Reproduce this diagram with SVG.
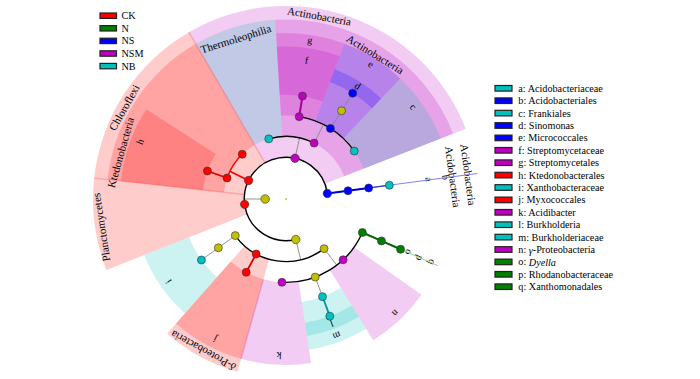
<svg xmlns="http://www.w3.org/2000/svg" width="700" height="379" viewBox="0 0 700 379">
<style>
.r{fill:#FF0000;fill-opacity:.2}
.m{fill:#C000C0;fill-opacity:.2}
.b{fill:#0000FF;fill-opacity:.2}
.t{fill:#00C0C0;fill-opacity:.2}
.seam{fill:none;stroke-opacity:.2;stroke-width:1.4}
.lab{font-family:"Liberation Serif","Times New Roman",serif;font-size:11px;fill:#000;text-anchor:middle;dominant-baseline:central}
.let{font-size:10px}
.nd{stroke:#333;stroke-width:.6}
.ck{fill:#FF0000}.gn{fill:#008000}.ns{fill:#0000FF}.nsm{fill:#C000C0}.nb{fill:#00C0C0}.y{fill:#C0C000}
.arc{fill:none;stroke:#000;stroke-width:1.4}
.gr{fill:none;stroke:#888;stroke-width:.9}
.leg{font-family:"Liberation Serif","Times New Roman",serif;font-size:10.2px;fill:#000;dominant-baseline:central}
.sw{stroke:#222;stroke-width:1.2}
</style>
<rect width="700" height="379" fill="#fff"/>
<g id="clades">
<g id="clade-actinobacteria-phylum"><path class="m" d="M188.92,32.17 A193,193 0 0 1 465.76,128.75 L324.84,183.82 A41.7,41.7 0 0 0 265.02,162.95 Z"/><text class="lab" transform="translate(319.26,15.99) rotate(10.3)">Actinobacteria</text></g>
<g id="clade-thermoleophilia"><path class="t" d="M195.71,43.84 A179.5,179.5 0 0 1 275.19,19.82 L282.23,136.56 A62.55,62.55 0 0 0 254.54,144.93 Z"/><text class="lab" transform="translate(235.77,38.69) rotate(-17.4)">Thermoleophilia</text></g>
<g id="clade-actinobacteria-class"><path class="m" d="M275.19,19.82 A179.5,179.5 0 0 1 453.19,133.66 L344.26,176.23 A62.55,62.55 0 0 0 282.23,136.56 Z"/><text class="lab" transform="translate(375.08,54.21) rotate(31.6)">Actinobacteria</text></g>
<g id="clade-g"><path class="m" d="M276.01,33.30 A166,166 0 0 1 344.40,43.61 L315.34,120.93 A83.4,83.4 0 0 0 280.98,115.75 Z"/><text class="lab let" transform="translate(310,40) rotate(9.1)">g</text></g>
<g id="clade-f"><path class="m" d="M276.82,46.77 A152.5,152.5 0 0 1 339.65,56.24 L322.68,101.41 A104.25,104.25 0 0 0 279.72,94.94 Z"/><text class="lab let" transform="translate(306.7,60) rotate(8.5)">f</text></g>
<g id="clade-e"><path class="b" d="M344.40,43.61 A166,166 0 0 1 400.27,78.58 L343.41,138.50 A83.4,83.4 0 0 0 315.34,120.93 Z"/><text class="lab let" transform="translate(371,64) rotate(32.2)">e</text></g>
<g id="clade-d"><path class="b" d="M334.72,69.35 A138.5,138.5 0 0 1 381.34,98.53 L372.12,108.25 A125.1,125.1 0 0 0 330.01,81.89 Z"/><text class="lab let" transform="translate(357.7,86) rotate(32.4)">d</text></g>
<g id="clade-c"><path class="t" d="M400.27,78.58 A166,166 0 0 1 440.61,138.58 L363.68,168.64 A83.4,83.4 0 0 0 343.41,138.50 Z"/><text class="lab let" transform="translate(413.3,106.7) rotate(54)">c</text></g>
<g id="clade-chloroflexi"><path class="r" d="M94.12,178.16 A193,193 0 0 1 188.92,32.17 L265.02,162.95 A41.7,41.7 0 0 0 244.54,194.50 Z"/><text class="lab" transform="translate(124.11,107.41) rotate(-60.5)">Chloroflexi</text></g>
<g id="clade-ktedonobacteria"><path class="r" d="M107.54,179.61 A179.5,179.5 0 0 1 134.95,102.02 L233.36,165.20 A62.55,62.55 0 0 0 223.81,192.24 Z"/><text class="lab" transform="translate(120.42,152.46) rotate(-74.3)">Ktedonobacteria</text></g>
<g id="clade-h"><path class="r" d="M120.96,181.07 A166,166 0 0 1 146.31,109.31 L215.82,153.94 A83.4,83.4 0 0 0 203.08,189.99 Z"/><text class="lab let" transform="translate(140,141.7) rotate(-68.6)">h</text></g>
<g id="clade-chloroflexi-class2"><path class="r" d="M134.95,102.02 A179.5,179.5 0 0 1 195.71,43.84 L254.54,144.93 A62.55,62.55 0 0 0 233.36,165.20 Z"/></g>
<g id="clade-planctomycetes"><path class="r" d="M106.47,269.91 A193,193 0 0 1 94.12,178.16 L244.54,194.50 A41.7,41.7 0 0 0 247.21,214.32 Z"/><text class="lab" transform="translate(101.15,227.29) rotate(-98.7)">Planctomycetes</text></g>
<g id="clade-i"><path class="t" d="M185.04,313.30 A152.5,152.5 0 0 1 144.14,255.03 L189.03,237.30 A104.25,104.25 0 0 0 216.99,277.14 Z"/><text class="lab let" transform="translate(168.3,281.7) rotate(234.9)">i</text></g>
<g id="clade-deltaproteobacteria"><path class="r" d="M237.43,371.80 A179.5,179.5 0 0 1 167.17,333.54 L244.59,245.88 A62.55,62.55 0 0 0 269.07,259.22 Z"/><text class="lab" transform="translate(203.18,350.89) rotate(208.6)"><tspan font-style="italic">δ</tspan>-Proteobacteria</text></g>
<g id="clade-j"><path class="r" d="M241.08,358.81 A166,166 0 0 1 176.11,323.42 L230.79,261.51 A83.4,83.4 0 0 0 263.43,279.29 Z"/><text class="lab let" transform="translate(215,339.3) rotate(206.8)">j</text></g>
<g id="clade-k"><path class="m" d="M311.10,363.09 A166,166 0 0 1 241.08,358.81 L263.43,279.29 A83.4,83.4 0 0 0 298.61,281.44 Z"/><text class="lab let" transform="translate(279,355.7) rotate(182.6)">k</text></g>
<g id="clade-m"><path class="t" d="M366.14,328.75 A152.5,152.5 0 0 1 309.06,349.75 L301.76,302.05 A104.25,104.25 0 0 0 340.78,287.70 Z"/><text class="lab let" transform="translate(336.7,336) rotate(159.7)">m</text></g>
<g id="clade-l"><path class="t" d="M358.78,316.84 A138.5,138.5 0 0 1 306.94,335.91 L304.92,322.66 A125.1,125.1 0 0 0 351.74,305.44 Z"/><text class="lab let" transform="translate(331.7,323.3) rotate(159.8)">l</text></g>
<g id="clade-n"><path class="m" d="M421.57,294.82 A166,166 0 0 1 373.23,340.23 L329.83,269.96 A83.4,83.4 0 0 0 354.11,247.14 Z"/><text class="lab let" transform="translate(395.7,313.3) rotate(136.2)">n</text></g>
<g id="clade-seams">
<path class="seam" stroke="#FF0000" d="M265.02,162.95 L188.92,32.17"/>
<path class="seam" stroke="#FF0000" d="M244.54,194.50 L94.12,178.16"/>
<path class="seam" stroke="#C000C0" d="M263.43,279.29 L241.08,358.81"/>
</g>
<g id="clade-acidobacteria"><text class="lab" transform="translate(468.38,174.66) rotate(82.4)">Acidobacteria</text><text class="lab" transform="translate(453.02,176.71) rotate(82.4)">Acidobacteria</text><text class="lab let" transform="translate(429,179.3) rotate(82.2)">a</text><text class="lab let" transform="translate(445.7,177.3) rotate(82.3)">b</text></g>
<g id="clade-xanthomonadales"><text class="lab let" transform="translate(409,252.3) rotate(113.7)">o</text><text class="lab let" transform="translate(420,258.3) rotate(113.7)">p</text><text class="lab let" transform="translate(432.3,262.3) rotate(113.7)">q</text></g>
</g>
<g id="connectors">
<path d="M327.33,193.48 L477.3,173.47" fill="none" stroke="#8080FF" stroke-width="1"/>
<path d="M362.37,232.52 L438.0,265.7" fill="none" stroke="#90D090" stroke-width="1"/>
<path class="gr" d="M265.15,199 L244.3,199"/>
<path class="arc" d="M295.80,239.53 A41.7,41.7 0 1 1 327.33,193.48"/>
<path class="gr" d="M295.02,158.29 L299.54,137.93"/>
<path class="arc" d="M268.76,138.87 A62.55,62.55 0 0 1 314.10,143.12"/>
<path class="gr" d="M314.10,143.12 L323.47,124.49"/>
<path class="arc" d="M299.19,116.65 A83.4,83.4 0 0 1 354.23,151.04"/>
<path class="gr" d="M330.44,128.43 L341.56,110.78 L352.67,93.14"/>
<path d="M299.19,116.65 L302.49,96.06" fill="none" stroke="#A000A0" stroke-width="2"/>
<path d="M248.62,180.52 L229.92,171.28" fill="none" stroke="#FF0000" stroke-width="1.7"/>
<path d="M227.07,178.01 A62.55,62.55 0 0 1 242.23,154.31" fill="none" stroke="#FF0000" stroke-width="1.5"/>
<path d="M227.07,178.01 L207.43,171.02" fill="none" stroke="#E00000" stroke-width="1.8"/>
<path d="M327.33,193.48 L348.00,190.72 L368.67,187.97" fill="none" stroke="#0000C8" stroke-width="2"/>
<path d="M368.67,187.97 L389.33,185.21" fill="none" stroke="#3030C0" stroke-width="1.2"/>
<path class="gr" d="M295.80,239.53 L300.71,259.80"/>
<path class="arc" d="M324.08,248.63 A62.55,62.55 0 0 1 235.27,235.59"/>
<path class="gr" d="M235.27,235.59 L218.35,247.79 L201.44,259.99"/>
<path d="M256.15,253.97 L246.20,272.29" fill="none" stroke="#E00000" stroke-width="1.8"/>
<path class="gr" d="M324.08,248.63 L336.77,265.17"/>
<path class="arc" d="M362.37,232.52 A83.4,83.4 0 0 1 281.93,282.30"/>
<path class="gr" d="M315.21,277.12 L322.51,296.65"/>
<path d="M322.51,296.65 L329.81,316.18" fill="none" stroke="#009A9A" stroke-width="1.8"/>
<path d="M362.37,232.52 L381.46,240.90 L400.55,249.28" fill="none" stroke="#006400" stroke-width="2"/>
</g>
<g id="nodes">
<g id="node-root"><circle cx="286" cy="199" r="0.9" class="y"/></g>
<g id="node-bacteria"><circle class="nd y" cx="265.15" cy="199" r="4.3"/></g>
<g id="node-proteobacteria"><circle class="nd y" cx="295.80" cy="239.53" r="4.2"/></g>
<g id="node-planctomycetes"><circle class="nd ck" cx="244.65" cy="204.37" r="4.2"/></g>
<g id="node-chloroflexi"><circle class="nd ck" cx="248.62" cy="180.52" r="4.2"/></g>
<g id="node-actinobacteria-phylum"><circle class="nd nsm" cx="295.02" cy="158.29" r="4.2"/></g>
<g id="node-acidobacteria-phylum"><circle class="nd ns" cx="327.33" cy="193.48" r="4.2"/></g>
<g id="node-alphaproteobacteria"><circle class="nd y" cx="235.27" cy="235.59" r="4"/></g>
<g id="node-deltaproteobacteria"><circle class="nd ck" cx="256.15" cy="253.97" r="4"/></g>
<g id="node-gammaproteobacteria"><circle class="nd y" cx="324.08" cy="248.63" r="4"/></g>
<g id="node-ktedonobacteria"><circle class="nd ck" cx="227.07" cy="178.01" r="4"/></g>
<g id="node-chloroflexi-class2"><circle class="nd ck" cx="242.23" cy="154.31" r="4"/></g>
<g id="node-thermoleophilia"><circle class="nd nb" cx="268.76" cy="138.87" r="4"/></g>
<g id="node-actinobacteria-class"><circle class="nd nsm" cx="314.10" cy="143.12" r="4"/></g>
<g id="node-acidobacteria-class"><circle class="nd ns" cx="348.00" cy="190.72" r="4"/></g>
<g id="node-rhizobiales"><circle class="nd y" cx="218.35" cy="247.79" r="4"/></g>
<g id="node-j"><circle class="nd ck" cx="246.20" cy="272.29" r="4"/></g>
<g id="node-k"><circle class="nd nsm" cx="281.93" cy="282.30" r="4"/></g>
<g id="node-burkholderiales"><circle class="nd y" cx="315.21" cy="277.12" r="4"/></g>
<g id="node-n"><circle class="nd nsm" cx="343.09" cy="259.80" r="4"/></g>
<g id="node-q"><circle class="nd gn" cx="362.37" cy="232.52" r="4"/></g>
<g id="node-h"><circle class="nd ck" cx="207.43" cy="171.02" r="4"/></g>
<g id="node-g"><circle class="nd nsm" cx="299.19" cy="116.65" r="4"/></g>
<g id="node-e"><circle class="nd ns" cx="330.44" cy="128.43" r="4"/></g>
<g id="node-c"><circle class="nd nb" cx="354.23" cy="151.04" r="4"/></g>
<g id="node-b"><circle class="nd ns" cx="368.67" cy="187.97" r="4"/></g>
<g id="node-i"><circle class="nd nb" cx="201.44" cy="259.99" r="4"/></g>
<g id="node-m"><circle class="nd nb" cx="322.51" cy="296.65" r="4"/></g>
<g id="node-p"><circle class="nd gn" cx="381.46" cy="240.90" r="4"/></g>
<g id="node-f"><circle class="nd nsm" cx="302.49" cy="96.06" r="4"/></g>
<g id="node-micrococcales-family"><circle class="nd y" cx="341.56" cy="110.78" r="4"/></g>
<g id="node-a"><circle class="nd nb" cx="389.33" cy="185.21" r="4"/></g>
<g id="node-l"><circle class="nd nb" cx="329.81" cy="316.18" r="4"/></g>
<g id="node-o"><circle class="nd gn" cx="400.55" cy="249.28" r="4"/></g>
<g id="node-d"><circle class="nd ns" cx="352.67" cy="93.14" r="4"/></g>
</g>
<g id="legend-groups">
<rect class="sw ck" x="100" y="13" width="16.5" height="5.4"/><text class="leg" x="121.5" y="15.7">CK</text>
<rect class="sw gn" x="100" y="25.6" width="16.5" height="5.4"/><text class="leg" x="121.5" y="28.3">N</text>
<rect class="sw ns" x="100" y="38.2" width="16.5" height="5.4"/><text class="leg" x="121.5" y="40.9">NS</text>
<rect class="sw nsm" x="100" y="50.8" width="16.5" height="5.4"/><text class="leg" x="121.5" y="53.5">NSM</text>
<rect class="sw nb" x="100" y="63.4" width="16.5" height="5.4"/><text class="leg" x="121.5" y="66.1">NB</text>
</g>
<g id="legend-taxa">
<rect class="sw nb" x="495" y="85.5" width="17" height="5.6"/><text class="leg" x="518.3" y="88.3">a: Acidobacteriaceae</text>
<rect class="sw ns" x="495" y="97.9" width="17" height="5.6"/><text class="leg" x="518.3" y="100.7">b: Acidobacteriales</text>
<rect class="sw nb" x="495" y="110.3" width="17" height="5.6"/><text class="leg" x="518.3" y="113.1">c: Frankiales</text>
<rect class="sw ns" x="495" y="122.7" width="17" height="5.6"/><text class="leg" x="518.3" y="125.5">d: Sinomonas</text>
<rect class="sw ns" x="495" y="135.1" width="17" height="5.6"/><text class="leg" x="518.3" y="137.9">e: Micrococcales</text>
<rect class="sw nsm" x="495" y="147.5" width="17" height="5.6"/><text class="leg" x="518.3" y="150.3">f: Streptomycetaceae</text>
<rect class="sw nsm" x="495" y="159.9" width="17" height="5.6"/><text class="leg" x="518.3" y="162.7">g: Streptomycetales</text>
<rect class="sw ck" x="495" y="172.3" width="17" height="5.6"/><text class="leg" x="518.3" y="175.1">h: Ktedonobacterales</text>
<rect class="sw nb" x="495" y="184.7" width="17" height="5.6"/><text class="leg" x="518.3" y="187.5">i: Xanthobacteraceae</text>
<rect class="sw ck" x="495" y="197.1" width="17" height="5.6"/><text class="leg" x="518.3" y="199.9">j: Myxococcales</text>
<rect class="sw nsm" x="495" y="209.5" width="17" height="5.6"/><text class="leg" x="518.3" y="212.3">k: Acidibacter</text>
<rect class="sw nb" x="495" y="221.9" width="17" height="5.6"/><text class="leg" x="518.3" y="224.7">l: Burkholderia</text>
<rect class="sw nb" x="495" y="234.3" width="17" height="5.6"/><text class="leg" x="518.3" y="237.1">m: Burkholderiaceae</text>
<rect class="sw nsm" x="495" y="246.7" width="17" height="5.6"/><text class="leg" x="518.3" y="249.5">n: <tspan font-style="italic">γ</tspan>-Proteobacteria</text>
<rect class="sw gn" x="495" y="259.1" width="17" height="5.6"/><text class="leg" x="518.3" y="261.9">o: <tspan font-style="italic">Dyella</tspan></text>
<rect class="sw gn" x="495" y="271.5" width="17" height="5.6"/><text class="leg" x="518.3" y="274.3">p: Rhodanobacteraceae</text>
<rect class="sw gn" x="495" y="283.9" width="17" height="5.6"/><text class="leg" x="518.3" y="286.7">q: Xanthomonadales</text>
</g>
</svg>
